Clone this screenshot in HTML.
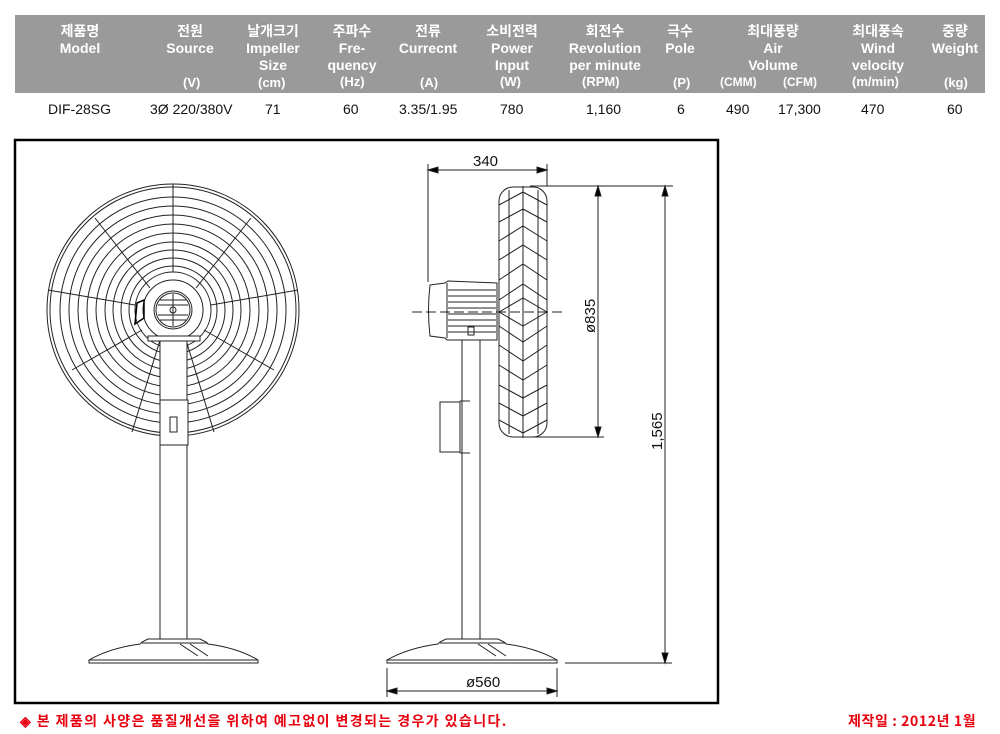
<!DOCTYPE html>
<html><head><meta charset="utf-8"><style>
body{margin:0;background:#fff;width:1000px;height:734px;overflow:hidden;position:relative;font-family:"Liberation Sans","Noto Sans CJK KR",sans-serif}
.hd{position:absolute;left:15px;top:15px;width:970px;height:78px;background:#9a9a9a}
.c{position:absolute;color:#fff;font-weight:bold;font-size:14px;line-height:17px;text-align:center}
.s{position:absolute;font-size:13px;font-weight:bold;color:#fff}
.d{position:absolute;top:101px;font-size:14px;color:#111}
.ft{position:absolute;top:711px;color:#e8000f;font-weight:bold;font-size:14px;font-family:"Noto Sans CJK KR","Liberation Sans",sans-serif}
</style></head><body>
<div class="hd"></div>
<div class="c" style="left:40px;top:23px;width:80px">제품명<br>Model</div>
<div class="c" style="left:150px;top:23px;width:80px">전원<br>Source</div>
<div class="s" style="left:183px;top:75px">(V)</div>
<div class="c" style="left:233px;top:23px;width:80px">날개크기<br>Impeller<br>Size</div>
<div class="s" style="left:258px;top:75px">(cm)</div>
<div class="c" style="left:312px;top:23px;width:80px">주파수<br>Fre-<br>quency</div>
<div class="s" style="left:340px;top:74px">(Hz)</div>
<div class="c" style="left:388px;top:23px;width:80px">전류<br>Currecnt</div>
<div class="s" style="left:420px;top:75px">(A)</div>
<div class="c" style="left:472px;top:23px;width:80px">소비전력<br>Power<br>Input</div>
<div class="s" style="left:500px;top:74px">(W)</div>
<div class="c" style="left:560px;top:23px;width:90px">회전수<br>Revolution<br>per minute</div>
<div class="s" style="left:582px;top:74px">(RPM)</div>
<div class="c" style="left:650px;top:23px;width:60px">극수<br>Pole</div>
<div class="s" style="left:673px;top:75px">(P)</div>
<div class="c" style="left:718px;top:23px;width:110px">최대풍량<br>Air<br>Volume</div>
<div class="s" style="left:720px;top:75px;font-size:12px">(CMM)</div>
<div class="s" style="left:783px;top:75px;font-size:12px">(CFM)</div>
<div class="c" style="left:838px;top:23px;width:80px">최대풍속<br>Wind<br>velocity</div>
<div class="s" style="left:852px;top:74px">(m/min)</div>
<div class="c" style="left:925px;top:23px;width:60px">중량<br>Weight</div>
<div class="s" style="left:944px;top:75px">(kg)</div>
<div class="d" style="left:48px">DIF-28SG</div>
<div class="d" style="left:150px">3Ø 220/380V</div>
<div class="d" style="left:265px">71</div>
<div class="d" style="left:343px">60</div>
<div class="d" style="left:399px">3.35/1.95</div>
<div class="d" style="left:500px">780</div>
<div class="d" style="left:586px">1,160</div>
<div class="d" style="left:677px">6</div>
<div class="d" style="left:726px">490</div>
<div class="d" style="left:778px">17,300</div>
<div class="d" style="left:861px">470</div>
<div class="d" style="left:947px">60</div>

<svg style="position:absolute;left:0;top:0" width="1000" height="734" viewBox="0 0 1000 734" fill="none" stroke="#222" stroke-width="1">
<rect x="15" y="140" width="703" height="563" stroke="#000" stroke-width="2.5"/>
<g>
<circle cx="173" cy="310" r="126"/><circle cx="173" cy="310" r="123"/>
<circle cx="173" cy="310" r="113"/><circle cx="173" cy="310" r="104"/>
<circle cx="173" cy="310" r="95"/><circle cx="173" cy="310" r="86"/>
<circle cx="173" cy="310" r="77"/><circle cx="173" cy="310" r="68"/>
<circle cx="173" cy="310" r="60"/><circle cx="173" cy="310" r="52"/>
<circle cx="173" cy="310" r="44"/><circle cx="173" cy="310" r="38"/>
<line x1="173" y1="184" x2="173" y2="272"/>
<line x1="95" y1="218" x2="150" y2="288"/>
<line x1="251" y1="218" x2="196" y2="288"/>
<line x1="48" y1="290" x2="135" y2="305"/>
<line x1="298" y1="290" x2="211" y2="305"/>
<line x1="72" y1="370" x2="142" y2="330"/>
<line x1="274" y1="370" x2="204" y2="330"/>
<line x1="132" y1="432" x2="160" y2="340"/>
<line x1="214" y1="432" x2="186" y2="340"/>
</g>
<circle cx="173" cy="310" r="30" fill="#fff"/>
<circle cx="173" cy="310" r="19" fill="#fff"/>
<circle cx="173" cy="310" r="17"/>
<circle cx="173" cy="310" r="3"/>
<line x1="173" y1="294" x2="173" y2="326"/>
<line x1="160" y1="300" x2="186" y2="300"/><line x1="158" y1="305" x2="188" y2="305"/>
<line x1="158" y1="315" x2="188" y2="315"/><line x1="160" y1="320" x2="186" y2="320"/>
<path d="M137 303 L144 300 L144 318 L135 324 Z" stroke="#000" stroke-width="1.5"/>
<rect x="148" y="336" width="52" height="5" fill="#fff"/>
<rect x="160" y="341" width="27" height="300" fill="#fff"/>
<rect x="160" y="400" width="28" height="45" fill="#fff"/>
<rect x="170" y="417" width="7" height="15"/>
<path d="M89 663 L89 660 Q110 648 140 644 L142 642 L148 639 L200 639 L206 642 L208 644 Q238 648 258 660 L258 663 Z" fill="#fff"/>
<line x1="89" y1="660" x2="258" y2="660"/>
<line x1="142" y1="643" x2="208" y2="643"/>
<line x1="180" y1="644" x2="198" y2="656"/><line x1="190" y1="644" x2="208" y2="656"/>
<line x1="462" y1="340" x2="462" y2="641"/><line x1="480" y1="340" x2="480" y2="641"/>
<rect x="440" y="402" width="20" height="50"/>
<line x1="460" y1="401" x2="460" y2="453"/>
<line x1="460" y1="401" x2="470" y2="401"/><line x1="460" y1="453" x2="470" y2="453"/>
<path d="M430 285 L445 283 L448 281 L497 283 L497 340 L447 340 L445 338 L430 336 Q427 310 430 285 Z" fill="#fff"/>
<line x1="447" y1="283" x2="447" y2="338"/>
<line x1="448" y1="290" x2="496" y2="290"/><line x1="448" y1="296" x2="496" y2="296"/>
<line x1="448" y1="302" x2="496" y2="302"/><line x1="448" y1="308" x2="496" y2="308"/>
<line x1="448" y1="314" x2="496" y2="314"/><line x1="448" y1="320" x2="496" y2="320"/>
<line x1="448" y1="326" x2="496" y2="326"/><line x1="448" y1="332" x2="496" y2="332"/>
<rect x="468" y="327" width="6" height="8"/>
<rect x="499" y="187" width="48" height="250" rx="14" fill="#fff"/>
<line x1="509" y1="190" x2="509" y2="434"/><line x1="523" y1="186" x2="523" y2="438"/><line x1="538" y1="190" x2="538" y2="434"/>
<path d="M499 205 L523 192 L547 205 M499 222 L523 209 L547 222 M499 241 L523 226 L547 241 M499 260 L523 245 L547 260 M499 280 L523 264 L547 280 M499 300 L523 284 L547 300 M499 312 L523 298 L547 312 M499 312 L523 326 L547 312 M499 326 L523 342 L547 326 M499 345 L523 361 L547 345 M499 365 L523 380 L547 365 M499 385 L523 398 L547 385 M499 403 L523 416 L547 403 M499 420 L523 433 L547 420"/>
<line x1="412" y1="312" x2="562" y2="312" stroke-dasharray="10,4"/>
<path d="M387 663 L387 660 Q408 648 438 644 L440 642 L446 639 L498 639 L504 642 L506 644 Q536 648 557 660 L557 663 Z" fill="#fff"/>
<line x1="387" y1="660" x2="557" y2="660"/>
<line x1="440" y1="643" x2="506" y2="643"/>
<line x1="478" y1="644" x2="496" y2="656"/><line x1="488" y1="644" x2="506" y2="656"/>
<line x1="428" y1="164" x2="428" y2="282"/><line x1="547" y1="164" x2="547" y2="186"/>
<line x1="428" y1="170" x2="547" y2="170"/>
<path d="M428 170 l10 -3 v6z M547 170 l-10 -3 v6z" fill="#000"/>
<line x1="530" y1="186" x2="673" y2="186"/><line x1="530" y1="437" x2="604" y2="437"/>
<line x1="598" y1="186" x2="598" y2="437"/>
<path d="M598 186 l-3 10 h6z M598 437 l-3 -10 h6z" fill="#000"/>
<line x1="565" y1="663" x2="672" y2="663"/>
<line x1="665" y1="186" x2="665" y2="663"/>
<path d="M665 186 l-3 10 h6z M665 663 l-3 -10 h6z" fill="#000"/>
<line x1="387" y1="668" x2="387" y2="697"/><line x1="557" y1="668" x2="557" y2="697"/>
<line x1="387" y1="691" x2="557" y2="691"/>
<path d="M387 691 l10 -3 v6z M557 691 l-10 -3 v6z" fill="#000"/>
<g fill="#111" stroke="none" font-family="Liberation Sans, sans-serif" font-size="15">
<text x="473" y="166">340</text>
<text x="466" y="687">ø560</text>
<text transform="translate(595,333) rotate(-90)">ø835</text>
<text transform="translate(662,450) rotate(-90)">1,565</text>
</g>
</svg>
<div class="ft" style="left:20px;letter-spacing:1.4px">◈ 본 제품의 사양은 품질개선을 위하여 예고없이 변경되는 경우가 있습니다.</div>
<div class="ft" style="left:848px;letter-spacing:0.6px">제작일 : 2012년 1월</div>
</body></html>
